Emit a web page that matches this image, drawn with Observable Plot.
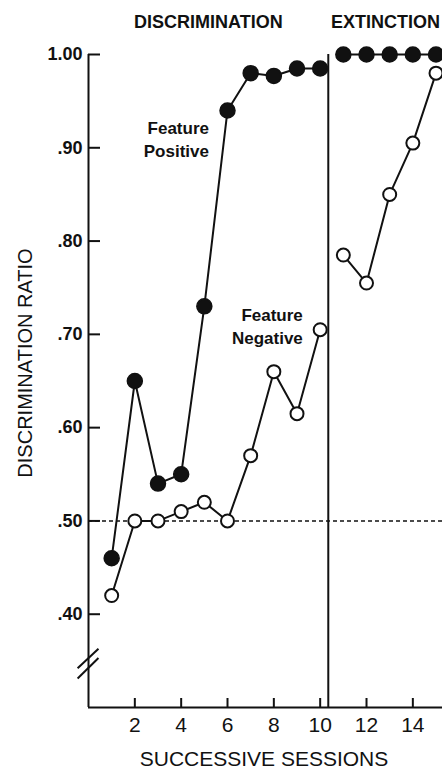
<!DOCTYPE html>
<html><head><meta charset="utf-8">
<script src="https://cdn.jsdelivr.net/npm/d3@7"></script>
<script src="https://cdn.jsdelivr.net/npm/@observablehq/plot@0.6"></script>
<style>
html,body{margin:0;padding:0;background:#fff;}
#chart svg{display:block;}
</style>
</head><body><div id="chart"></div>
<script>
// ---- data ----
const sessions = [1, 2, 3, 4, 5, 6, 7, 8, 9, 10, 11, 12, 13, 14, 15];
const featurePositive = [0.46, 0.65, 0.54, 0.55, 0.73, 0.94, 0.98, 0.977, 0.985, 0.985, 1.00, 1.00, 1.00, 1.00, 1.00];
const featureNegative = [0.42, 0.50, 0.50, 0.51, 0.52, 0.50, 0.57, 0.66, 0.615, 0.705, 0.785, 0.755, 0.85, 0.905, 0.98];
const phaseLabels = ["DISCRIMINATION", "EXTINCTION"];
const phaseBoundary = 10.35;
const xMax = 15.28;
const yTicks = [0.40, 0.50, 0.60, 0.70, 0.80, 0.90, 1.00];
const xTicks = [2, 4, 6, 8, 10, 12, 14];
const chanceLevel = 0.50;
const seriesNames = ["Feature\nPositive", "Feature\nNegative"];
const seriesNameX = [5.2, 9.25];
const seriesNameY = [0.91, 0.71];
const breakX1 = [-0.47, -0.47];
const breakY1 = [0.342, 0.331];
const breakX2 = [0.43, 0.43];
const breakY2 = [0.363, 0.353];

// ---- layout ----
const W = 442, H = 771, ML = 88, MR = 0, MT = 54, MB = 64;
const rows = sessions.map((s, i) => ({
  session: s,
  phase: s < phaseBoundary ? "discrimination" : "extinction",
  positive: featurePositive[i],
  negative: featureNegative[i]
}));
const phaseCenters = [phaseBoundary / 2, (phaseBoundary + xMax) / 2];
const fmt = d => d >= 1 ? d.toFixed(2) : d.toFixed(2).replace(/^0/, "");
const breaks = breakX1.map((x, i) => ({x1: x, y1: breakY1[i], x2: breakX2[i], y2: breakY2[i]}));
const ink = "#111";

const chart = Plot.plot({
  width: W, height: H,
  marginLeft: ML, marginRight: MR, marginTop: MT, marginBottom: MB,
  style: {fontFamily: "'Liberation Sans', Arial, sans-serif", color: ink, background: "#fff"},
  x: {domain: [0, xMax]},
  y: {domain: [0.3, 1.0]},
  marks: [
    Plot.ruleY([chanceLevel], {stroke: ink, strokeWidth: 1.5, strokeDasharray: "4,3"}),
    Plot.ruleX([phaseBoundary], {stroke: ink, strokeWidth: 2}),
    Plot.ruleX([0], {stroke: ink, strokeWidth: 2}),
    Plot.ruleY([0.3], {stroke: ink, strokeWidth: 2}),
    Plot.tickY(yTicks, {y: d => d, insetRight: W - ML - MR - 12, stroke: ink, strokeWidth: 2}),
    Plot.tickX(xTicks, {x: d => d, insetTop: H - MT - MB - 9, stroke: ink, strokeWidth: 2}),
    Plot.axisY({ticks: yTicks, tickSize: 0, tickPadding: 6, tickFormat: fmt, label: null, fontSize: 18, fontWeight: "bold"}),
    Plot.axisX({ticks: xTicks, tickSize: 0, tickPadding: 10, label: null, fontSize: 21}),
    Plot.link(breaks, {x1: "x1", y1: "y1", x2: "x2", y2: "y2", stroke: ink, strokeWidth: 2}),
    Plot.line(rows, {x: "session", y: "positive", z: "phase", stroke: ink, strokeWidth: 2}),
    Plot.line(rows, {x: "session", y: "negative", z: "phase", stroke: ink, strokeWidth: 2}),
    Plot.dot(rows, {x: "session", y: "positive", r: 7.5, fill: ink, stroke: ink}),
    Plot.dot(rows, {x: "session", y: "negative", r: 6.5, fill: "#fff", stroke: ink, strokeWidth: 2}),
    Plot.text(phaseLabels, {x: (d, i) => phaseCenters[i], frameAnchor: "top", lineAnchor: "middle", dy: -32, fontSize: 18, fontWeight: "bold", fill: ink}),
    Plot.text(["DISCRIMINATION RATIO"], {frameAnchor: "left", textAnchor: "middle", lineAnchor: "middle", rotate: -90, dx: -63, dy: -18, fontSize: 20, fill: ink}),
    Plot.text(["SUCCESSIVE SESSIONS"], {frameAnchor: "bottom", lineAnchor: "middle", dx: -1.5, dy: 52, fontSize: 21, fill: ink}),
    Plot.text(seriesNames, {x: (d, i) => seriesNameX[i], y: (d, i) => seriesNameY[i], textAnchor: "end", lineHeight: 1.35, fontSize: 17, fontWeight: "bold", fill: ink})
  ]
});
document.getElementById("chart").appendChild(chart);
</script>
</body></html>
